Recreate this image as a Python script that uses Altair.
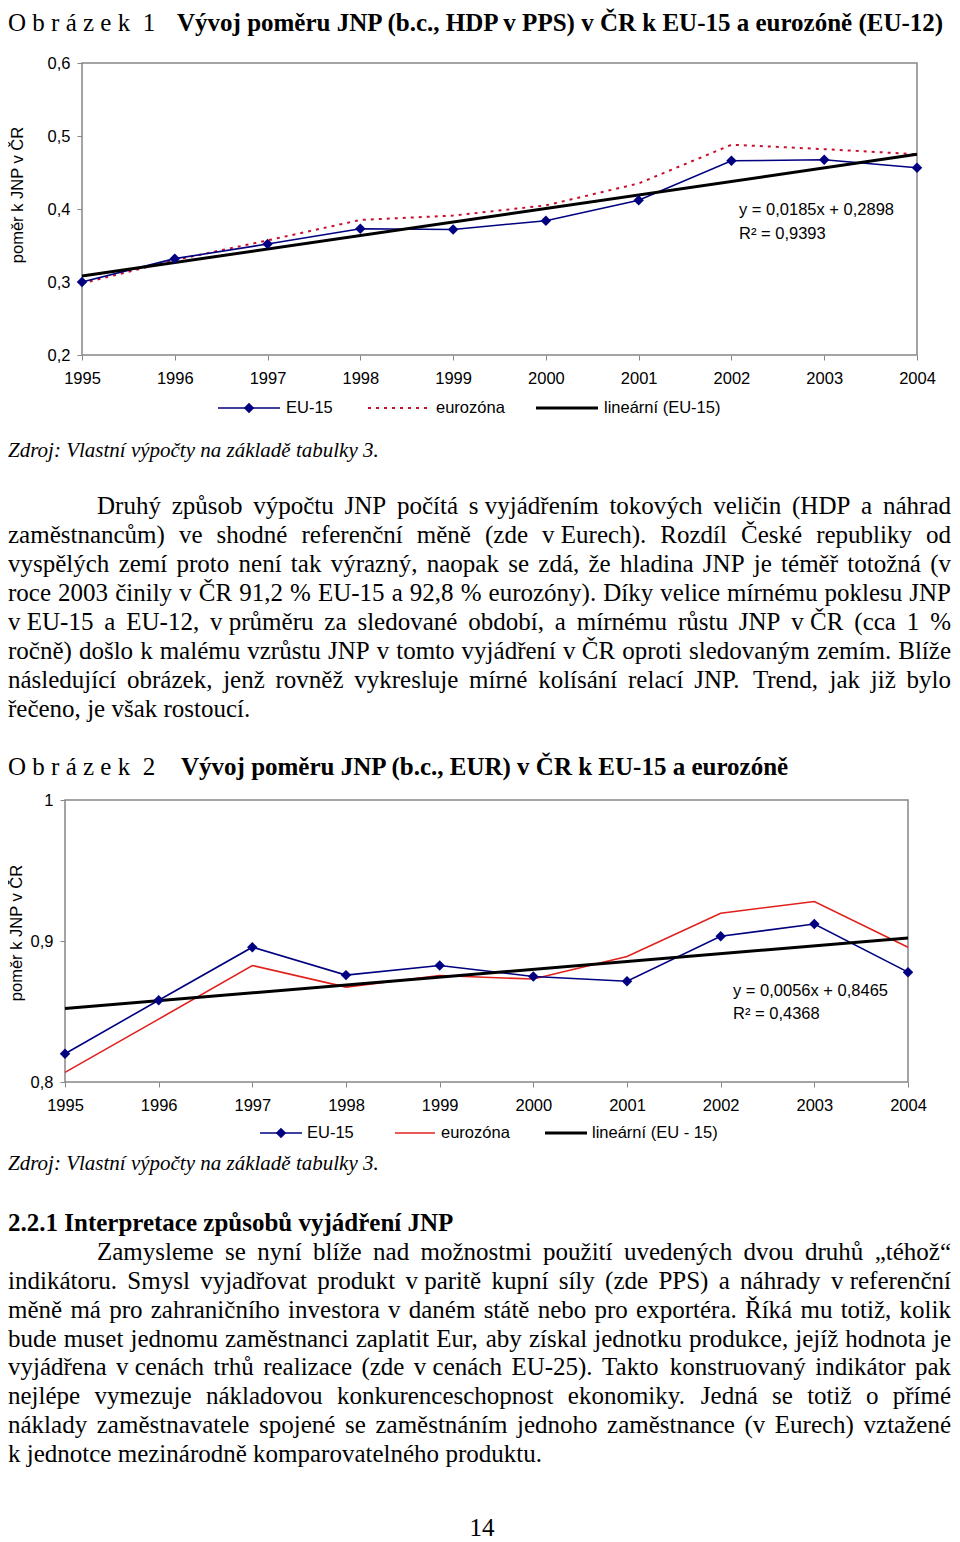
import unicodedata
import altair as alt
import pandas as pd

# ---------------- data ----------------
years = [1995, 1996, 1997, 1998, 1999, 2000, 2001, 2002, 2003, 2004]
eu15_pps = [0.300, 0.332, 0.352, 0.373, 0.372, 0.384, 0.412, 0.466, 0.4675, 0.4566]
ez_pps = [0.298, 0.330, 0.357, 0.385, 0.391, 0.405, 0.435, 0.488, 0.482, 0.475]
eu15_eur = [0.820, 0.858, 0.8956, 0.8758, 0.8826, 0.8748, 0.8715, 0.9034, 0.912, 0.8779]
ez_eur = [0.8068, 0.8446, 0.8826, 0.8673, 0.8755, 0.873, 0.889, 0.9197, 0.928, 0.8956]
y1_ticks = [0.2, 0.3, 0.4, 0.5, 0.6]
y2_ticks = [0.8, 0.9, 1.0]

title1_a = "O\u00a0b\u00a0r\u00a0á\u00a0z\u00a0e\u00a0k\u00a0\u00a01"
title1_b = "Vývoj poměru JNP (b.c., HDP v PPS) v ČR k EU-15 a eurozóně (EU-12)"
title2_a = "O\u00a0b\u00a0r\u00a0á\u00a0z\u00a0e\u00a0k\u00a0\u00a02"
title2_b = "Vývoj poměru JNP (b.c., EUR) v ČR k EU-15 a eurozóně"
y_title = "poměr k JNP v ČR"
eq1 = ["y = 0,0185x + 0,2898", "R² = 0,9393"]
eq2 = ["y = 0,0056x + 0,8465", "R² = 0,4368"]
legend1 = ["EU-15", "eurozóna", "lineární (EU-15)"]
legend2 = ["EU-15", "eurozóna", "lineární (EU - 15)"]
source = "Zdroj: Vlastní výpočty na základě tabulky 3."
heading = "2.2.1 Interpretace způsobů vyjádření JNP"
page_no = "14"

par1 = [
    "Druhý způsob výpočtu JNP počítá s\u00a0vyjádřením tokových veličin (HDP a náhrad",
    "zaměstnancům) ve shodné referenční měně (zde v\u00a0Eurech). Rozdíl České republiky od",
    "vyspělých zemí proto není tak výrazný, naopak se zdá, že hladina JNP je téměř totožná (v",
    "roce 2003 činily v ČR 91,2 % EU-15 a 92,8 % eurozóny). Díky velice mírnému poklesu JNP",
    "v\u00a0EU-15 a EU-12, v\u00a0průměru za sledované období, a mírnému růstu JNP v\u00a0ČR (cca 1 %",
    "ročně) došlo k malému vzrůstu JNP v tomto vyjádření v\u00a0ČR oproti sledovaným zemím. Blíže",
    "následující obrázek, jenž rovněž vykresluje mírné kolísání relací JNP. Trend, jak již bylo",
    "řečeno, je však rostoucí.",
]
par2 = [
    "Zamysleme se nyní blíže nad možnostmi použití uvedených dvou druhů „téhož“",
    "indikátoru. Smysl vyjadřovat produkt v\u00a0paritě kupní síly (zde PPS) a náhrady v\u00a0referenční",
    "měně má pro zahraničního investora v daném státě nebo pro exportéra. Říká mu totiž, kolik",
    "bude muset jednomu zaměstnanci zaplatit Eur, aby získal jednotku produkce, jejíž hodnota je",
    "vyjádřena v\u00a0cenách trhů realizace (zde v\u00a0cenách EU-25). Takto konstruovaný indikátor pak",
    "nejlépe vymezuje nákladovou konkurenceschopnost ekonomiky. Jedná se totiž o přímé",
    "náklady zaměstnavatele spojené se zaměstnáním jednoho zaměstnance (v Eurech) vztažené",
    "k\u00a0jednotce mezinárodně komparovatelného produktu.",
]

# ---------------- styling / layout ----------------
M = 8
W, H = 944, 1534
SERIF = "Liberation Serif"
SANS = "Liberation Sans"
GRAY = "#868686"
NAVY = "#000080"
RED1 = "#C8102E"
RED2 = "#E0201C"
BODY = 25
CH = 16.5
TEXT_RIGHT = 951


def vx(x):
    return x - M


def vy(y):
    return y - M


# Times New Roman / Liberation Serif advance widths (1/1000 em)
TW = {" ": 250, "\u00a0": 250, "(": 333, ")": 333, ",": 250, "-": 333, ".": 250,
      ":": 278, "%": 833, "„": 444, "“": 444, "\"": 408}
for c in "0123456789":
    TW[c] = 500
for c, w in zip("ABCDEFGHIJKLMNOPQRSTUVWXYZ",
                [722, 667, 667, 722, 611, 556, 722, 722, 333, 389, 722, 611, 889,
                 722, 722, 556, 722, 667, 556, 611, 722, 722, 944, 722, 722, 611]):
    TW[c] = w
for c, w in zip("abcdefghijklmnopqrstuvwxyz",
                [444, 500, 444, 500, 444, 333, 500, 500, 278, 278, 500, 278, 778,
                 500, 500, 500, 500, 333, 389, 278, 500, 500, 722, 500, 500, 444]):
    TW[c] = w


def text_width(s, size):
    tot = 0
    for ch in s:
        if ch in TW:
            tot += TW[ch]
        else:
            tot += TW.get(unicodedata.normalize("NFD", ch)[0], 500)
    return tot * size / 1000.0


def justify(lines, base0, lh, left, right, indent, size):
    rows = []
    for i, line in enumerate(lines):
        y = base0 + i * lh
        x0 = left + (indent if i == 0 else 0)
        words = line.split(" ")
        wds = [text_width(w, size) for w in words]
        if i == len(lines) - 1 or len(words) < 2:
            gap = 0.25 * size
        else:
            gap = (right - x0 - sum(wds)) / (len(words) - 1)
        x = x0
        for w, wd in zip(words, wds):
            rows.append({"x": vx(x), "y": vy(y), "t": w})
            x += wd + gap
    return rows


def text_layer(rows, size, weight="normal", style="normal", font=SERIF,
               align="left", baseline="alphabetic", angle=0):
    kw = dict(align=align, baseline=baseline, font=font, fontSize=size,
              fontWeight=weight, fontStyle=style, color="black")
    if angle:
        kw["angle"] = angle
    return alt.Chart(pd.DataFrame(rows)).mark_text(**kw).encode(
        x=alt.X("x:Q", scale=None, axis=None),
        y=alt.Y("y:Q", scale=None, axis=None),
        text="t:N",
    )


def legend_line(x1, x2, y, color, width, dash=None, diamond=None):
    kw = dict(color=color, strokeWidth=width)
    if dash:
        kw["strokeDash"] = dash
    d = pd.DataFrame({"x": [vx(x1)], "x2": [vx(x2)], "y": [vy(y)]})
    parts = [alt.Chart(d).mark_rule(**kw).encode(
        x=alt.X("x:Q", scale=None, axis=None), x2="x2:Q",
        y=alt.Y("y:Q", scale=None, axis=None))]
    if diamond is not None:
        dd = pd.DataFrame({"x": [vx(diamond)], "y": [vy(y)]})
        parts.append(alt.Chart(dd).mark_point(shape="diamond", filled=True, size=110,
                                              color=color, opacity=1).encode(
            x=alt.X("x:Q", scale=None, axis=None),
            y=alt.Y("y:Q", scale=None, axis=None)))
    return parts


def make_plot(eu, ez, yticks, yexpr, left, right, top, bottom, ez_color, ez_dash):
    xs = alt.Scale(domain=[years[0], years[-1]], range=[vx(left), vx(right)],
                   nice=False, zero=False)
    ys = alt.Scale(domain=[yticks[0], yticks[-1]], range=[vy(bottom), vy(top)],
                   nice=False, zero=False)
    xa = alt.Axis(orient="bottom", offset=vy(bottom) - H, values=years, format="d",
                  title=None, grid=False, domain=False, tickColor=GRAY, tickSize=5,
                  tickWidth=1, labelFont=SANS, labelFontSize=CH, labelColor="black",
                  labelPadding=10, labelFlush=False, labelOverlap=False, labelAngle=0)
    ya = alt.Axis(orient="left", offset=-vx(left), values=yticks, labelExpr=yexpr,
                  title=None, grid=False, domain=False, tickColor=GRAY, tickSize=5,
                  tickWidth=1, labelFont=SANS, labelFontSize=CH, labelColor="black",
                  labelPadding=7, labelFlush=False, labelOverlap=False)

    def X(f):
        return alt.X(f + ":Q", scale=xs, axis=xa)

    def Y(f):
        return alt.Y(f + ":Q", scale=ys, axis=ya)

    df = pd.DataFrame({"year": years, "eu15": eu, "ez": ez})
    fdf = pd.DataFrame({"xa": [years[0]], "xb": [years[-1]],
                        "ya": [yticks[0]], "yb": [yticks[-1]]})
    frame = alt.Chart(fdf).mark_rect(fill="white", fillOpacity=0, stroke=GRAY,
                                     strokeWidth=1.5).encode(
        x=X("xa"), x2="xb:Q", y=Y("ya"), y2="yb:Q")
    ez_kw = dict(color=ez_color, strokeWidth=2 if ez_dash else 1.6)
    if ez_dash:
        ez_kw["strokeDash"] = ez_dash
    ez_line = alt.Chart(df).mark_line(**ez_kw).encode(x=X("year"), y=Y("ez"))
    eu_line = alt.Chart(df).mark_line(color=NAVY, strokeWidth=1.6).encode(
        x=X("year"), y=Y("eu15"))
    reg = alt.Chart(df).transform_regression(
        "year", "eu15", extent=[years[0], years[-1]]
    ).mark_line(color="black", strokeWidth=3).encode(x=X("year"), y=Y("eu15"))
    pts = alt.Chart(df).mark_point(shape="diamond", filled=True, size=110,
                                   color=NAVY, opacity=1).encode(
        x=X("year"), y=Y("eu15"))
    return alt.layer(frame, ez_line, eu_line, reg, pts)


lbl1 = "replace(format(datum.value, '.1f'), '.', ',')"
lbl2 = "datum.value > 0.99 ? '1' : replace(format(datum.value, '.1f'), '.', ',')"

plot1 = make_plot(eu15_pps, ez_pps, y1_ticks, lbl1, 82, 917, 63, 355, RED1, [3, 5])
plot2 = make_plot(eu15_eur, ez_eur, y2_ticks, lbl2, 65, 908, 800, 1082, RED2, None)

layers = [plot1, plot2]

# titles
layers.append(text_layer([{"x": vx(8), "y": vy(30.5), "t": title1_a},
                          {"x": vx(8), "y": vy(775), "t": title2_a}], BODY))
layers.append(text_layer([{"x": vx(177), "y": vy(30.5), "t": title1_b},
                          {"x": vx(181), "y": vy(775), "t": title2_b},
                          {"x": vx(8), "y": vy(1231), "t": heading}], BODY, weight="bold"))
# sources
layers.append(text_layer([{"x": vx(8), "y": vy(457), "t": source},
                          {"x": vx(8), "y": vy(1170), "t": source}], 21, style="italic"))
# paragraphs
body_rows = (justify(par1, 514, 29, 8, TEXT_RIGHT, 89, BODY)
             + justify(par2, 1260, 28.86, 8, TEXT_RIGHT, 89, BODY))
layers.append(text_layer(body_rows, BODY))
layers.append(text_layer([{"x": vx(482), "y": vy(1536), "t": page_no}], BODY, align="center"))

# axis titles (rotated)
layers.append(text_layer([{"x": vx(18), "y": vy(195), "t": y_title},
                          {"x": vx(17), "y": vy(933), "t": y_title}], CH, font=SANS,
                         align="center", baseline="middle", angle=270))
# equations + legend texts
sans_rows = [
    {"x": vx(739), "y": vy(210), "t": eq1[0]}, {"x": vx(739), "y": vy(234), "t": eq1[1]},
    {"x": vx(733), "y": vy(991), "t": eq2[0]}, {"x": vx(733), "y": vy(1014), "t": eq2[1]},
    {"x": vx(286), "y": vy(408), "t": legend1[0]}, {"x": vx(436), "y": vy(408), "t": legend1[1]},
    {"x": vx(604), "y": vy(408), "t": legend1[2]},
    {"x": vx(307), "y": vy(1133), "t": legend2[0]}, {"x": vx(441), "y": vy(1133), "t": legend2[1]},
    {"x": vx(592), "y": vy(1133), "t": legend2[2]},
]
layers.append(text_layer(sans_rows, CH, font=SANS, baseline="middle"))

# legend symbols
layers += legend_line(218, 280, 408, NAVY, 1.6, diamond=249)
layers += legend_line(368, 430, 408, RED1, 2, dash=[3, 5])
layers += legend_line(536, 598, 408, "black", 3)
layers += legend_line(260, 302, 1133, NAVY, 1.6, diamond=281)
layers += legend_line(395, 435, 1133, RED2, 1.6)
layers += legend_line(545, 587, 1133, "black", 3)

chart = alt.layer(*layers).resolve_scale(
    x="independent", y="independent"
).properties(
    width=W, height=H, padding=0, autosize=alt.AutoSizeParams(type="none")
).configure_view(stroke="transparent")

chart.save("out.html", embed_options={"renderer": "svg", "actions": False})
